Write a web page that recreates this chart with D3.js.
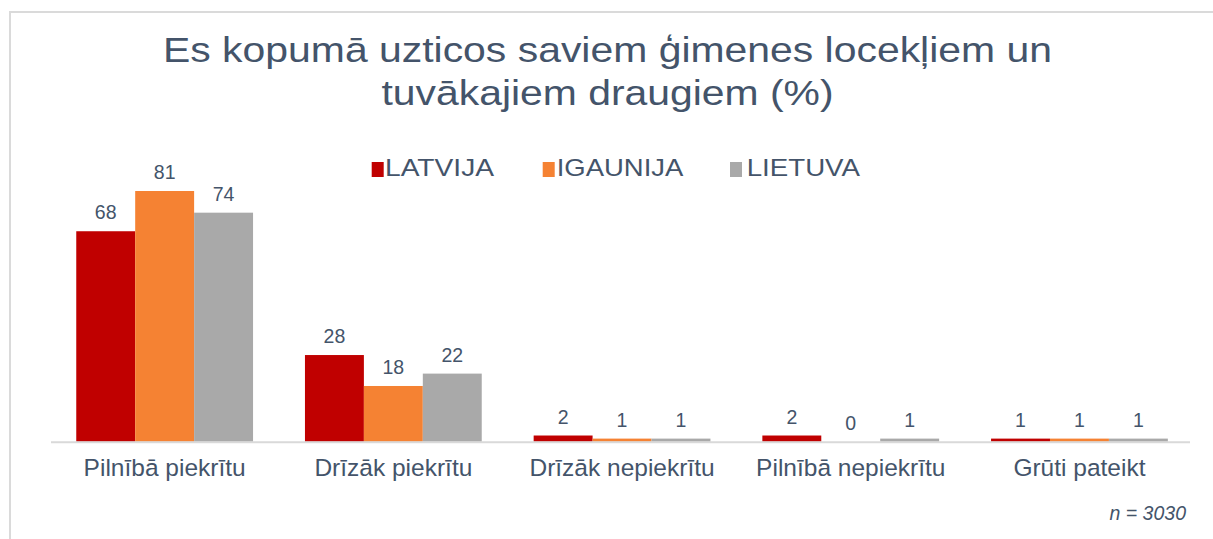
<!DOCTYPE html>
<html>
<head>
<meta charset="utf-8">
<script src="https://cdn.jsdelivr.net/npm/d3@7"></script>
<style>
  html, body { margin: 0; padding: 0; background: #ffffff; }
  svg { display: block; }
  text { font-family: "Liberation Sans", Arial, Helvetica, sans-serif; fill: #44546a; }
</style>
</head>
<body>
<svg id="chart" width="1213" height="539"></svg>
<script>
const titleLines = ["Es kopumā uzticos saviem ģimenes locekļiem un", "tuvākajiem draugiem (%)"];
const categories = ["Pilnībā piekrītu", "Drīzāk piekrītu", "Drīzāk nepiekrītu", "Pilnībā nepiekrītu", "Grūti pateikt"];
const seriesNames = ["LATVIJA", "IGAUNIJA", "LIETUVA"];
const latvija = [68, 28, 2, 2, 1];
const igaunija = [81, 18, 1, 0, 1];
const lietuva = [74, 22, 1, 1, 1];
const note = "n = 3030";

const seriesValues = [latvija, igaunija, lietuva];
const colors = ["#c00000", "#f58233", "#a9a9a9"];

const svg = d3.select("#chart");

// frame
svg.append("path")
  .attr("d", "M10,539 L10,12 L1213,12")
  .attr("fill", "none").attr("stroke", "#dadada").attr("stroke-width", 2);

// title
const titleWidths = [889, 452];
const titleBase = [62, 104.5];
titleLines.forEach((t, i) => {
  svg.append("text")
    .attr("x", 607.5).attr("y", titleBase[i])
    .attr("text-anchor", "middle")
    .attr("font-size", 35)
    .attr("textLength", titleWidths[i])
    .attr("lengthAdjust", "spacingAndGlyphs")
    .text(t);
});

// legend
const legendSq = [371.7, 542.7, 730];
const legendTxt = [385, 556.7, 746.7];
const legendW = [109, 126.7, 113.3];
seriesNames.forEach((n, i) => {
  svg.append("rect").attr("x", legendSq[i]).attr("y", 162).attr("width", 12).attr("height", 15).attr("fill", colors[i]);
  svg.append("text").attr("x", legendTxt[i]).attr("y", 175.7)
    .attr("font-size", 24)
    .attr("textLength", legendW[i]).attr("lengthAdjust", "spacingAndGlyphs")
    .text(n);
});

// scales
const x = d3.scaleBand().domain(categories).range([50.3, 1193.8]).paddingInner(0.227).paddingOuter(0.1135);
const xs = d3.scaleBand().domain(seriesNames).range([0, x.bandwidth()]).padding(0);
const y = d3.scaleLinear().domain([0, 100]).range([441.7, 132.2]);

const data = [];
categories.forEach((c, ci) => {
  seriesNames.forEach((s, si) => {
    data.push({ c, s, si, v: seriesValues[si][ci] });
  });
});

const g = svg.append("g");
g.selectAll("rect.bar").data(data).enter().append("rect")
  .attr("class", "bar")
  .attr("x", d => x(d.c) + xs(d.s))
  .attr("y", d => y(d.v))
  .attr("width", xs.bandwidth())
  .attr("height", d => y(0) - y(d.v))
  .attr("fill", d => colors[d.si]);

// axis line
const xAxis = d3.axisBottom(x).tickSize(0).tickPadding(0).tickSizeOuter(0);
const ax = svg.append("g").attr("transform", `translate(0,${y(0)})`).call(xAxis);
ax.select(".domain").attr("stroke", "#d9d9d9").attr("stroke-width", 2)
  .attr("d", "M51,0.5H1190");
ax.selectAll(".tick text")
  .attr("y", 34)
  .attr("dy", 0)
  .attr("font-size", 24.5)
  .attr("font-family", "Liberation Sans, Arial, sans-serif")
  .attr("fill", "#44546a");

// value labels
g.selectAll("text.val").data(data).enter().append("text")
  .attr("class", "val")
  .attr("x", d => x(d.c) + xs(d.s) + xs.bandwidth() / 2)
  .attr("y", d => y(d.v) - 12)
  .attr("text-anchor", "middle")
  .attr("font-size", 19.5)
  .text(d => d.v);

// note
svg.append("text").attr("x", 1186).attr("y", 520)
  .attr("text-anchor", "end").attr("font-size", 19.5).attr("font-style", "italic")
  .text(note);
</script>
</body>
</html>
